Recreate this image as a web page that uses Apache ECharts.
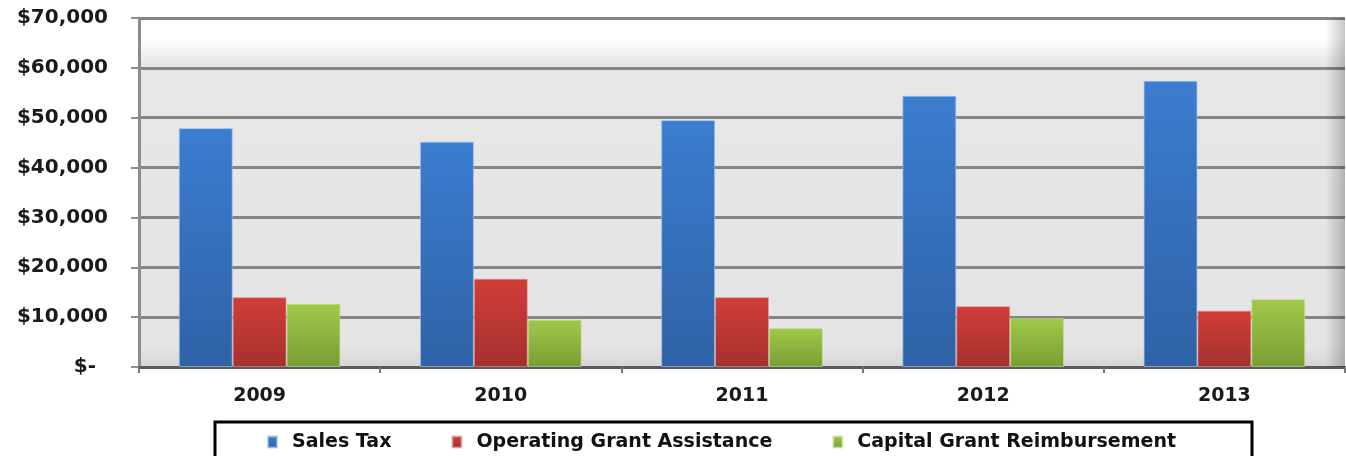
<!DOCTYPE html>
<html>
<head>
<meta charset="utf-8">
<script src="https://cdn.jsdelivr.net/npm/echarts@6/dist/echarts.min.js"></script>
<style>html,body{margin:0;padding:0;background:#fff}#c{width:1346px;height:456px}</style>
</head>
<body>
<div id="c"></div>
<script>
// ---- data ----
const categories = ['2009', '2010', '2011', '2012', '2013'];
const salesTax = [47900, 45200, 49500, 54400, 57400];
const operatingGrant = [14000, 17700, 14000, 12200, 11300];
const capitalGrant = [12700, 9500, 7800, 9800, 13600];
const seriesNames = ['Sales Tax', 'Operating Grant Assistance', 'Capital Grant Reimbursement'];
const yMin = 0, yMax = 70000, yStep = 10000;

const FONT = 'DejaVu Sans';
function grad(top, bottom) {
  return new echarts.graphic.LinearGradient(0, 0, 0, 1, [
    { offset: 0, color: top }, { offset: 1, color: bottom }
  ]);
}
const chart = echarts.init(document.getElementById('c'), null, { renderer: 'canvas' });
const labelStyle = { fontFamily: FONT, fontWeight: 'bold', fontSize: 20, color: '#1a1a1a' };
chart.setOption({
  animation: false,
  backgroundColor: '#ffffff',
  grid: {
    left: 139, right: 1, top: 18, bottom: 89,
    show: true,
    borderWidth: 0,
    backgroundColor: new echarts.graphic.LinearGradient(0, 0, 0, 1, [
      { offset: 0, color: '#ffffff' },
      { offset: 0.06, color: '#ffffff' },
      { offset: 0.1, color: '#f2f2f2' },
      { offset: 0.13, color: '#e7e7e7' },
      { offset: 0.94, color: '#e4e4e4' },
      { offset: 1, color: '#d6d6d6' }
    ])
  },
  graphic: [
    {
      type: 'rect', z: 1, silent: true,
      shape: { x: 1325, y: 18, width: 20, height: 349 },
      style: {
        fill: new echarts.graphic.LinearGradient(0, 0, 1, 0, [
          { offset: 0, color: 'rgba(0,0,0,0)' },
          { offset: 1, color: 'rgba(0,0,0,0.22)' }
        ])
      }
    },
    {
      type: 'rect', z: 100, silent: true,
      shape: { x: 215, y: 422, width: 1037, height: 60 },
      style: { fill: 'none', stroke: '#000', lineWidth: 3 }
    }
  ],
  legend: {
    data: seriesNames,
    left: 267, top: 432,
    itemWidth: 9, itemHeight: 11,
    itemGap: 60,
    padding: 0,
    icon: 'rect',
    textStyle: { fontFamily: FONT, fontWeight: 'bold', fontSize: 19, color: '#111', lineHeight: 20, padding: [0, 0, 0, 10] }
  },
  xAxis: {
    type: 'category',
    data: categories,
    axisLine: { lineStyle: { color: '#5a5a5a', width: 3 } },
    axisTick: { show: true, length: 6, lineStyle: { color: '#777', width: 2 } },
    axisLabel: { margin: 20, fontFamily: FONT, fontWeight: 'bold', fontSize: 19, color: '#1a1a1a' },
    splitLine: { show: false }
  },
  yAxis: {
    type: 'value',
    min: yMin, max: yMax, interval: yStep,
    axisLine: { show: true, lineStyle: { color: '#8c8c8c', width: 3 } },
    axisTick: { show: true, length: 8, lineStyle: { color: '#8c8c8c', width: 2 } },
    splitLine: { lineStyle: { color: '#858585', width: 3 } },
    axisLabel: Object.assign({
      margin: 31,
      formatter: function (v) {
        if (v === 0) return '{d|$-}';
        return '$' + v.toLocaleString('en-US');
      },
      rich: { d: Object.assign({ padding: [0, 12, 0, 0] }, labelStyle) }
    }, labelStyle)
  },
  series: [
    {
      name: seriesNames[0], type: 'bar', data: salesTax,
      barGap: '0%', barCategoryGap: '33%', z: 5,
      itemStyle: { color: grad('#3b7dd0', '#2f62a6'), borderColor: 'rgba(160,190,230,0.7)', borderWidth: 1 }
    },
    {
      name: seriesNames[1], type: 'bar', data: operatingGrant, z: 5,
      itemStyle: { color: grad('#d23d39', '#a3312e'), borderColor: 'rgba(230,150,150,0.6)', borderWidth: 1 }
    },
    {
      name: seriesNames[2], type: 'bar', data: capitalGrant, z: 5,
      itemStyle: { color: grad('#a0ca4a', '#789d34'), borderColor: 'rgba(200,225,150,0.6)', borderWidth: 1 }
    }
  ]
});
</script>
</body>
</html>
